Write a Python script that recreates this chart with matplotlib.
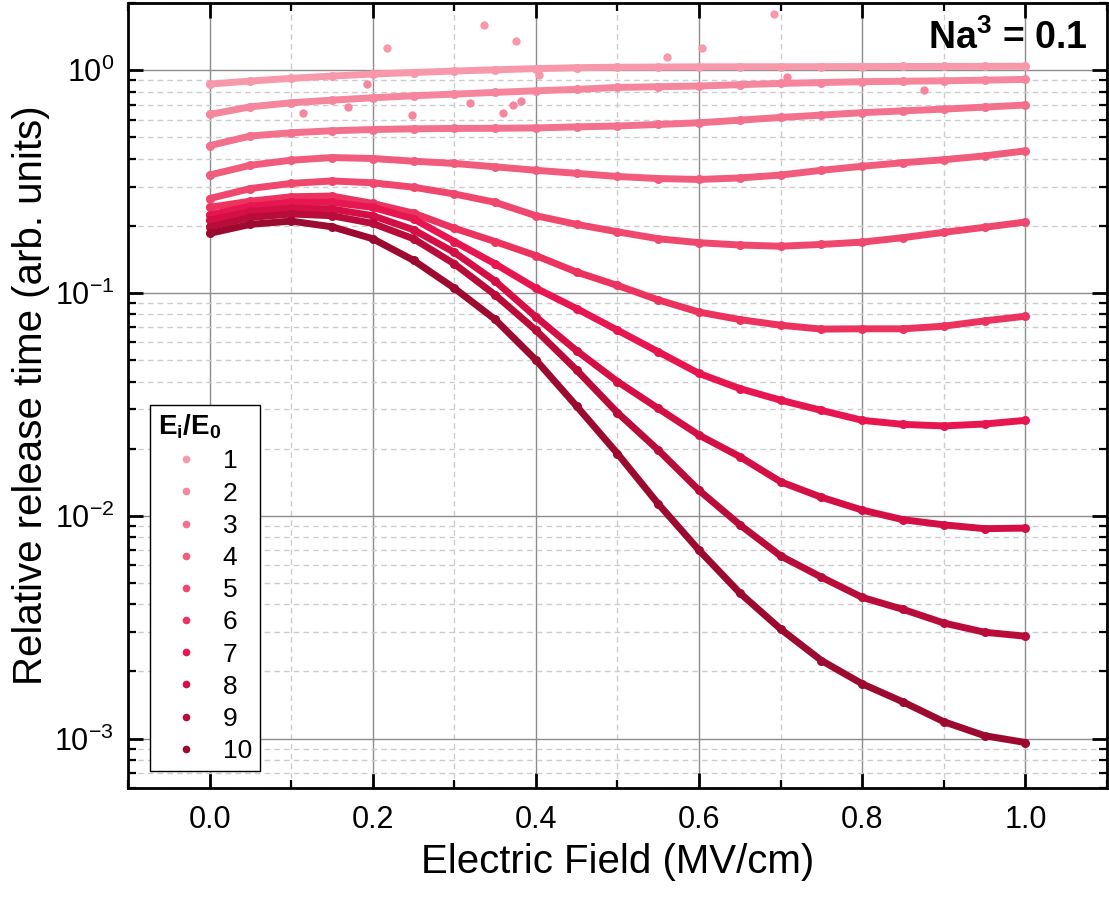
import matplotlib
matplotlib.use("Agg")
import matplotlib.pyplot as plt
from matplotlib.ticker import MultipleLocator, FormatStrFormatter, LogLocator, LogFormatterSciNotation, NullFormatter
from matplotlib.lines import Line2D

plt.rcParams['font.family'] = ['Liberation Sans', 'DejaVu Sans']
plt.rcParams['mathtext.fontset'] = 'custom'
plt.rcParams['mathtext.rm'] = 'Liberation Sans'
plt.rcParams['mathtext.it'] = 'Liberation Sans:italic'
plt.rcParams['mathtext.bf'] = 'Liberation Sans:bold'
plt.rcParams['axes.unicode_minus'] = False

# electric field (MV/cm), values read at every 0.05
field = [0.0, 0.05, 0.1, 0.15, 0.2, 0.25, 0.3, 0.35, 0.4, 0.45, 0.5,
         0.55, 0.6, 0.65, 0.7, 0.75, 0.8, 0.85, 0.9, 0.95, 1.0]

s1 = [0.865, 0.893, 0.918, 0.94, 0.96, 0.975, 0.99, 1.003, 1.015, 1.025, 1.03,
      1.032, 1.034, 1.035, 1.035, 1.036, 1.037, 1.038, 1.038, 1.039, 1.04]
s2 = [0.632, 0.684, 0.713, 0.733, 0.751, 0.767, 0.78, 0.794, 0.807, 0.819, 0.836,
      0.842, 0.848, 0.86, 0.871, 0.879, 0.887, 0.891, 0.895, 0.901, 0.908]
s3 = [0.458, 0.506, 0.523, 0.534, 0.541, 0.545, 0.547, 0.548, 0.55, 0.556, 0.561,
      0.57, 0.58, 0.596, 0.613, 0.628, 0.644, 0.656, 0.668, 0.682, 0.697]
s4 = [0.338, 0.374, 0.394, 0.405, 0.401, 0.39, 0.381, 0.368, 0.355, 0.344, 0.333,
      0.326, 0.323, 0.328, 0.338, 0.355, 0.37, 0.384, 0.396, 0.412, 0.434]
s5 = [0.265, 0.294, 0.31, 0.318, 0.312, 0.298, 0.278, 0.255, 0.222, 0.203, 0.188,
      0.175, 0.168, 0.164, 0.162, 0.165, 0.169, 0.177, 0.187, 0.197, 0.208]
s6 = [0.242, 0.258, 0.27, 0.272, 0.252, 0.228, 0.195, 0.17, 0.147, 0.124, 0.108,
      0.093, 0.082, 0.0759, 0.0716, 0.0688, 0.069, 0.069, 0.0709, 0.0749, 0.0786]
s7 = [0.224, 0.245, 0.255, 0.255, 0.242, 0.215, 0.17, 0.135, 0.105, 0.085, 0.068,
      0.0544, 0.0435, 0.0372, 0.033, 0.0297, 0.0268, 0.0257, 0.0253, 0.0258, 0.0268]
s8 = [0.212, 0.232, 0.24, 0.238, 0.222, 0.192, 0.152, 0.113, 0.078, 0.055, 0.04,
      0.0303, 0.023, 0.0184, 0.0142, 0.0121, 0.0106, 0.0096, 0.0091, 0.00875, 0.0088]
s9 = [0.198, 0.218, 0.226, 0.222, 0.205, 0.175, 0.135, 0.098, 0.068, 0.045, 0.029,
      0.0197, 0.013, 0.0091, 0.0066, 0.0053, 0.0043, 0.0038, 0.0033, 0.0030, 0.00288]
s10 = [0.185, 0.203, 0.21, 0.198, 0.175, 0.14, 0.105, 0.076, 0.05, 0.031, 0.019,
       0.0113, 0.007, 0.0045, 0.0031, 0.00224, 0.00176, 0.00146, 0.00119, 0.00103, 0.00096]
series = [s1, s2, s3, s4, s5, s6, s7, s8, s9, s10]
labels = ['1', '2', '3', '4', '5', '6', '7', '8', '9', '10']

# stray points above/below the two top curves
out1_x = [0.217, 0.336, 0.376, 0.404, 0.561, 0.604, 0.692]
out1_y = [1.25, 1.59, 1.35, 0.95, 1.14, 1.26, 1.78]
out2_x = [0.115, 0.17, 0.193, 0.248, 0.319, 0.36, 0.372, 0.382, 0.708, 0.876]
out2_y = [0.64, 0.68, 0.862, 0.626, 0.713, 0.64, 0.70, 0.73, 0.93, 0.813]

colors = ['#F799AB', '#F5869D', '#F3718D', '#F15C7D', '#EF476E',
          '#EC3360', '#E81650', '#D40F45', '#B90C3B', '#9C0A30']

fig = plt.figure(figsize=(11.09, 9.07), dpi=100)
ax = fig.add_axes([0.1154, 0.1312, 0.8828, 0.8655])

for i, ys in enumerate(series):
    ax.plot(field, ys, '-', color=colors[i], lw=5.0, solid_capstyle='round',
            solid_joinstyle='round', zorder=3 + i * 0.1)
    ax.plot(field, ys, 'o', color=colors[i], ms=6.5, mew=0, zorder=3 + i * 0.1)
ax.plot(out1_x, out1_y, 'o', color=colors[0], ms=6, mew=0, zorder=3)
ax.plot(out2_x, out2_y, 'o', color=colors[1], ms=6, mew=0, zorder=3)

ax.set_yscale('log')
ax.set_xlim(-0.1, 1.1)
ax.set_ylim(6e-4, 2.0)

ax.xaxis.set_major_locator(MultipleLocator(0.2))
ax.xaxis.set_minor_locator(MultipleLocator(0.1))
ax.xaxis.set_major_formatter(FormatStrFormatter('%.1f'))
ax.yaxis.set_major_locator(LogLocator(base=10, numticks=10))
ax.yaxis.set_minor_locator(LogLocator(base=10, subs=range(2, 10), numticks=20))
ax.yaxis.set_major_formatter(LogFormatterSciNotation())
ax.yaxis.set_minor_formatter(NullFormatter())

ax.grid(True, which='major', color='#8c8c8c', lw=1.0, ls='-', zorder=0)
ax.grid(True, which='minor', color='#cccccc', lw=1.0, ls=(0, (4, 3)), zorder=0)
ax.set_axisbelow(True)

ax.tick_params(which='both', direction='in', top=True, right=True)
ax.tick_params(which='major', length=11, width=2, labelsize=22)
ax.tick_params(axis='x', which='major', pad=12)
ax.tick_params(axis='y', which='major', pad=10)
ax.tick_params(which='minor', length=6, width=1.6)
for sp in ax.spines.values():
    sp.set_linewidth(2)
    sp.set_color('black')

ax.set_xlabel('Electric Field (MV/cm)', fontsize=29, labelpad=6)
ax.set_ylabel('Relative release time (arb. units)', fontsize=29, labelpad=3)

ax.text(0.98, 0.941, r'Na$^{\mathregular{3}}$ = 0.1', transform=ax.transAxes,
        ha='right', va='baseline', fontsize=27, fontweight='bold', zorder=6)

handles = [Line2D([], [], ls='none', marker='o', color=c, ms=5.5, mew=0) for c in colors]
leg = ax.legend(handles, labels, title=r'$\mathbf{E_i/E_0}$', loc='lower left',
                bbox_to_anchor=(0.0225, 0.0217), borderaxespad=0, fontsize=19,
                title_fontsize=20, frameon=True, fancybox=False, framealpha=1,
                edgecolor='black', handlelength=2.1, handletextpad=0.35,
                labelspacing=0.31, borderpad=0.3, alignment='left')
leg.get_frame().set_linewidth(1.0)
leg.set_zorder(10)

fig.savefig('out.png', dpi=100)
